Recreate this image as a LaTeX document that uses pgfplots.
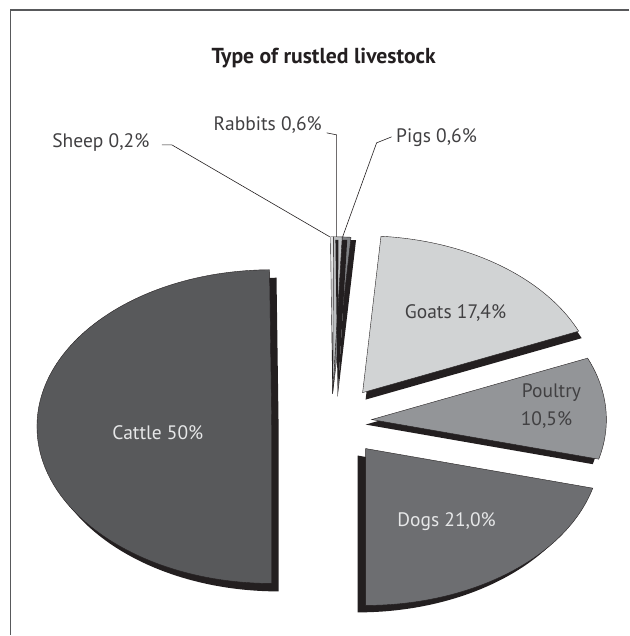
\documentclass[border=0pt]{standalone}
\usepackage{pgfplots}
\pgfplotsset{compat=1.18}
\usepackage{fontspec}
\setmainfont{PT Sans}
\definecolor{cCattle}{HTML}{58595B}
\definecolor{cDogs}{HTML}{6D6E71}
\definecolor{cPoultry}{HTML}{939598}
\definecolor{cGoats}{HTML}{D1D3D4}
\definecolor{cPigs}{HTML}{808285}
\definecolor{cRabbits}{HTML}{BCBEC0}
\definecolor{cSheep}{HTML}{E6E7E8}
\definecolor{shd}{HTML}{231F20}
\definecolor{txtdark}{HTML}{414042}
\definecolor{txtlight}{HTML}{E6E7E8}
\definecolor{framec}{HTML}{58595B}
% degrees per percent (values sum to 100.3)
\pgfmathsetmacro\kdeg{360/100.3}
% #1 apex x, #2 apex y (px), #3 cumulative % before slice, #4 value %, #5 colour, #6 #7 shadow offset
\newcommand{\slice}[7]{%
  \fill[shd] (axis cs:{#1+#6},{#2+#7}) -- ++({235bp*cos(-90+#3*\kdeg)},{157bp*sin(-90+#3*\kdeg)})
     arc[start angle={-90+#3*\kdeg}, end angle={-90+(#3+#4)*\kdeg}, x radius=235bp, y radius=157bp] -- cycle;
  \filldraw[fill=#5, draw=shd, line width=0.4bp] (axis cs:#1,#2) -- ++({235bp*cos(-90+#3*\kdeg)},{157bp*sin(-90+#3*\kdeg)})
     arc[start angle={-90+#3*\kdeg}, end angle={-90+(#3+#4)*\kdeg}, x radius=235bp, y radius=157bp] -- cycle;
}
\newcommand{\lab}{\fontsize{19.5bp}{22bp}\selectfont}
\begin{document}
\begin{tikzpicture}
\begin{axis}[
  at={(0,0)}, anchor=south west,
  width=630bp, height=636bp, scale only axis,
  xmin=0, xmax=630, ymin=0, ymax=636, y dir=reverse,
  axis lines=none, ticks=none, clip=false,
]
\path (axis cs:0,0) rectangle (axis cs:630,636);
% frame
\addplot[framec, line width=1.3bp, no marks] coordinates {(630,10) (10.5,10) (10.5,636)};
% slices: apex x, apex y, cumulative %, value %
\slice{366}{449}{0}{21.0}{cDogs}{-8}{7}
\slice{372}{420}{21.0}{10.5}{cPoultry}{-6}{5}
\slice{363}{393}{31.5}{17.4}{cGoats}{3}{7}
\slice{333}{394}{48.9}{0.6}{cPigs}{5}{3}
\slice{333}{394}{49.5}{0.6}{cRabbits}{5}{3}
\slice{333}{394}{50.1}{0.2}{cSheep}{5}{3}
\slice{272}{427}{50.3}{50.0}{cCattle}{7}{8}
% leader lines
\addplot[shd, line width=0.6bp, no marks] coordinates {(162,145) (172,145) (330,237)};
\addplot[shd, line width=0.6bp, no marks] coordinates {(327,133) (337,135) (337,237)};
\addplot[shd, line width=0.6bp, no marks] coordinates {(392,137) (377,143) (343,237)};
% labels
\node[font=\bfseries\fontsize{21.7bp}{24bp}\selectfont, text=shd] at (axis cs:324,58) {Type of rustled livestock};
\node[font=\lab, text=txtdark] at (axis cs:101,143) {Sheep 0,2\%};
\node[font=\lab, text=txtdark] at (axis cs:268,125) {Rabbits 0,6\%};
\node[font=\lab, text=txtdark] at (axis cs:437,138) {Pigs 0,6\%};
\node[font=\lab, text=txtlight] at (axis cs:158,433) {Cattle 50\%};
\node[font=\lab, text=txtdark] at (axis cs:456,313) {Goats 17,4\%};
\node[font=\lab, text=txtdark] at (axis cs:552,393) {Poultry};
\node[font=\lab, text=txtdark] at (axis cs:547,420) {10,5\%};
\node[font=\lab, text=txtlight] at (axis cs:447,522) {Dogs 21,0\%};
\end{axis}
\end{tikzpicture}
\end{document}
